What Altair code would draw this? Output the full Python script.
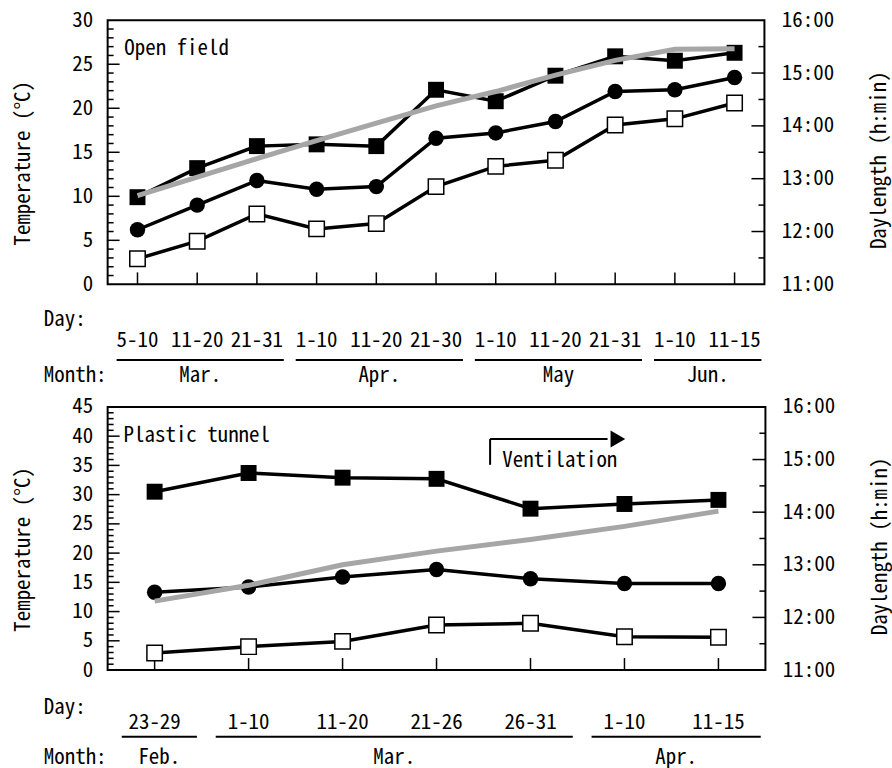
import altair as alt
import pandas as pd

FONT = "Noto Sans Mono CJK JP, Noto Sans CJK JP, DejaVu Sans Mono, sans-serif"
FS = 21

# ---------------- data: open field (top) ----------------
top_days = ["5-10", "11-20", "21-31", "1-10", "11-20", "21-30",
            "1-10", "11-20", "21-31", "1-10", "11-15"]
top_max = [9.9, 13.2, 15.7, 15.9, 15.7, 22.1, 20.8, 23.7, 25.9, 25.4, 26.3]
top_mean = [6.2, 9.0, 11.8, 10.8, 11.1, 16.6, 17.2, 18.5, 21.9, 22.1, 23.5]
top_min = [2.9, 4.9, 8.0, 6.3, 6.9, 11.1, 13.4, 14.1, 18.1, 18.8, 20.6]
top_daylen = [12.68, 13.03, 13.38, 13.72, 14.05, 14.38, 14.65, 14.96, 15.24, 15.45, 15.46]
top_months = ["Mar.", "Apr.", "May", "Jun."]
top_month_first = [0, 3, 6, 9]
top_month_last = [2, 5, 8, 10]

# ---------------- data: plastic tunnel (bottom) ----------------
bot_days = ["23-29", "1-10", "11-20", "21-26", "26-31", "1-10", "11-15"]
bot_max = [30.5, 33.7, 32.9, 32.7, 27.6, 28.4, 29.1]
bot_mean = [13.3, 14.2, 15.9, 17.2, 15.6, 14.8, 14.8]
bot_min = [2.9, 4.0, 4.9, 7.7, 8.0, 5.7, 5.6]
bot_daylen = [12.31, 12.61, 13.0, 13.26, 13.48, 13.73, 14.02]
bot_months = ["Feb.", "Mar.", "Apr."]
bot_month_first = [0, 1, 5]
bot_month_last = [0, 4, 6]

DL_TICKS = [11, 12, 13, 14, 15, 16]


def txt(**kw):
    base = dict(font=FONT, fontSize=FS, color="black")
    base.update(kw)
    return base


def panel(days, tmax, tmean, tmin, daylen, months, mfirst, mlast,
          ymax, W, H, label, label_x, label_y, offs, extra=None, anchor=None):
    n = len(days)
    xs = alt.Scale(domain=[-0.5, n - 0.5], nice=False, zero=False)
    ts = alt.Scale(domain=[0, ymax], nice=False, zero=True)
    ds = alt.Scale(domain=[11, 16], nice=False, zero=False)

    rows = []
    for name, vals in [("max", tmax), ("mean", tmean), ("min", tmin)]:
        for i, v in enumerate(vals):
            rows.append({"idx": i, "series": name, "temp": v})
    sdf = pd.DataFrame(rows)
    ddf = pd.DataFrame({"idx": list(range(n)), "h": daylen, "day": days})

    major = [v for v in range(5, ymax, 5)]
    minor = [v for v in range(1, ymax) if v % 5]
    layers = []

    # inward ticks, left axis
    layers.append(alt.Chart(pd.DataFrame({"v": major})).mark_rule(color="black", strokeWidth=1.5).encode(
        y=alt.Y("v:Q", scale=ts, axis=None), x=alt.value(0), x2=alt.value(12)))
    layers.append(alt.Chart(pd.DataFrame({"v": minor})).mark_rule(color="black", strokeWidth=1.5).encode(
        y=alt.Y("v:Q", scale=ts, axis=None), x=alt.value(0), x2=alt.value(6)))
    # inward ticks, right axis
    layers.append(alt.Chart(pd.DataFrame({"v": [12, 13, 14, 15]})).mark_rule(color="black", strokeWidth=1.5).encode(
        y=alt.Y("v:Q", scale=ds, axis=None), x=alt.value(W), x2=alt.value(W - 13)))
    layers.append(alt.Chart(pd.DataFrame({"v": [11.5, 12.5, 13.5, 14.5, 15.5]})).mark_rule(color="black", strokeWidth=1.5).encode(
        y=alt.Y("v:Q", scale=ds, axis=None), x=alt.value(W), x2=alt.value(W - 6)))
    # x ticks (inward)
    layers.append(alt.Chart(ddf).mark_rule(color="black", strokeWidth=1.5).encode(
        x=alt.X("idx:Q", scale=xs, axis=None), y=alt.value(H), y2=alt.value(H - 12)))

    # temperature lines
    layers.append(alt.Chart(sdf).mark_line(color="black", strokeWidth=3.5).encode(
        x=alt.X("idx:Q", scale=xs, axis=None),
        y=alt.Y("temp:Q", scale=ts, axis=alt.Axis(
            orient="left", values=list(range(0, ymax + 1, 5)), tickSize=0, domain=False,
            grid=False, title=None, labelPadding=15, labelFont=FONT, labelFontSize=FS,
            labelColor="black")),
        detail="series:N"))
    layers.append(alt.Chart(sdf).transform_filter("datum.series == 'max'").mark_point(
        shape="square", filled=True, color="black", size=256, opacity=1).encode(
        x=alt.X("idx:Q", scale=xs, axis=None), y=alt.Y("temp:Q", scale=ts, axis=None)))
    layers.append(alt.Chart(sdf).transform_filter("datum.series == 'mean'").mark_point(
        shape="circle", filled=True, color="black", size=240, opacity=1).encode(
        x=alt.X("idx:Q", scale=xs, axis=None), y=alt.Y("temp:Q", scale=ts, axis=None)))
    layers.append(alt.Chart(sdf).transform_filter("datum.series == 'min'").mark_point(
        shape="square", filled=True, fill="white", stroke="black", strokeWidth=1.5,
        size=240, opacity=1).encode(
        x=alt.X("idx:Q", scale=xs, axis=None), y=alt.Y("temp:Q", scale=ts, axis=None)))

    # daylength (gray)
    layers.append(alt.Chart(ddf).mark_line(color="#a6a6a6", strokeWidth=5).encode(
        x=alt.X("idx:Q", scale=xs, axis=None),
        y=alt.Y("h:Q", scale=ds, axis=alt.Axis(
            orient="right", values=DL_TICKS, labelExpr="datum.value + ':00'", tickSize=0,
            domain=False, grid=False, title=None, labelPadding=17, labelFont=FONT,
            labelFontSize=FS, labelColor="black"))))

    # panel label
    layers.append(alt.Chart(pd.DataFrame({"t": [label], "x": [label_x], "y": [label_y]})).mark_text(
        **txt(align="left", baseline="alphabetic")).encode(
        x=alt.X("x:Q", scale=xs, axis=None), y=alt.Y("y:Q", scale=ts, axis=None), text="t:N"))

    # day labels
    d_base, dl_base, m_line, m_base = offs
    layers.append(alt.Chart(ddf).mark_text(**txt(align="center", baseline="alphabetic")).encode(
        x=alt.X("idx:Q", scale=xs, axis=None), y=alt.value(H + dl_base), text="day:N"))
    mdf = pd.DataFrame({"m": months, "first": mfirst, "last": mlast})
    mdf["x1"] = mdf["first"] - 0.35
    mdf["x2"] = mdf["last"] + 0.45
    mdf["mid"] = (mdf["x1"] + mdf["x2"]) / 2
    layers.append(alt.Chart(mdf).mark_rule(color="black", strokeWidth=2).encode(
        x=alt.X("x1:Q", scale=xs, axis=None), x2="x2:Q", y=alt.value(H + m_line)))
    layers.append(alt.Chart(mdf).mark_text(**txt(align="center", baseline="alphabetic")).encode(
        x=alt.X("mid:Q", scale=xs, axis=None), y=alt.value(H + m_base), text="m:N"))
    layers.append(alt.Chart(pd.DataFrame({"t": ["Day:"]})).mark_text(
        **txt(align="left", baseline="alphabetic")).encode(
        x=alt.value(-64), y=alt.value(H + d_base), text="t:N"))
    layers.append(alt.Chart(pd.DataFrame({"t": ["Month:"]})).mark_text(
        **txt(align="left", baseline="alphabetic")).encode(
        x=alt.value(-64), y=alt.value(H + m_base), text="t:N"))

    # axis titles
    layers.append(alt.Chart(pd.DataFrame({"t": ["Temperature (°C)"]})).mark_text(
        **txt(angle=270, align="center", baseline="middle")).encode(
        x=alt.value(-84), y=alt.value(H / 2 + 11), text="t:N"))
    layers.append(alt.Chart(pd.DataFrame({"t": ["Daylength  (h:min)"]})).mark_text(
        **txt(angle=270, align="center", baseline="middle")).encode(
        x=alt.value(W + 116), y=alt.value(H / 2 + 8), text="t:N"))

    if extra:
        layers.extend(extra(xs, ts))
    if anchor:
        ax, ay = anchor
        layers.append(alt.Chart(pd.DataFrame({"a": [0]})).mark_rule(color="white", strokeWidth=1).encode(
            x=alt.value(ax), x2=alt.value(ax + 1), y=alt.value(ay), y2=alt.value(ay)))

    return alt.layer(*layers).resolve_scale(y="independent").properties(width=W, height=H)


# ventilation annotation (bottom panel), in data units
vent_x0 = 3.57
vent_x1 = 4.82
vent_tip = 4.93
vent_ytop = 39.5
vent_ybot = 35.1


def ventilation(xs, ts):
    seg = pd.DataFrame({"x": [vent_x0, vent_x0], "x2": [vent_x0, vent_x1],
                        "y": [vent_ybot, vent_ytop], "y2": [vent_ytop, vent_ytop]})
    r = alt.Chart(seg).mark_rule(color="black", strokeWidth=2).encode(
        x=alt.X("x:Q", scale=xs, axis=None), x2="x2:Q",
        y=alt.Y("y:Q", scale=ts, axis=None), y2="y2:Q")
    head = alt.Chart(pd.DataFrame({"x": [vent_tip], "y": [vent_ytop]})).mark_point(
        shape="triangle-right", filled=True, color="black", size=290, opacity=1).encode(
        x=alt.X("x:Q", scale=xs, axis=None), y=alt.Y("y:Q", scale=ts, axis=None))
    t = alt.Chart(pd.DataFrame({"t": ["Ventilation"], "x": [3.70], "y": [34.8]})).mark_text(
        **txt(align="left", baseline="alphabetic")).encode(
        x=alt.X("x:Q", scale=xs, axis=None), y=alt.Y("y:Q", scale=ts, axis=None), text="t:N")
    return [r, head, t]


top = panel(top_days, top_max, top_mean, top_min, top_daylen, top_months,
            top_month_first, top_month_last, 30, 659, 265, "Open field", -0.22, 26.1,
            (42, 63, 76, 98), anchor=(-106, -17))
bottom = panel(bot_days, bot_max, bot_mean, bot_min, bot_daylen, bot_months,
               bot_month_first, bot_month_last, 45, 660, 264, "Plastic tunnel", -0.33, 39.0,
               (44, 59, 67, 94), extra=ventilation)

chart = alt.vconcat(top, bottom, spacing=123, bounds="flush").properties(
    padding=0
).configure_view(stroke="black", strokeWidth=2)

chart.save("out.html", embed_options={"renderer": "svg", "actions": False})
